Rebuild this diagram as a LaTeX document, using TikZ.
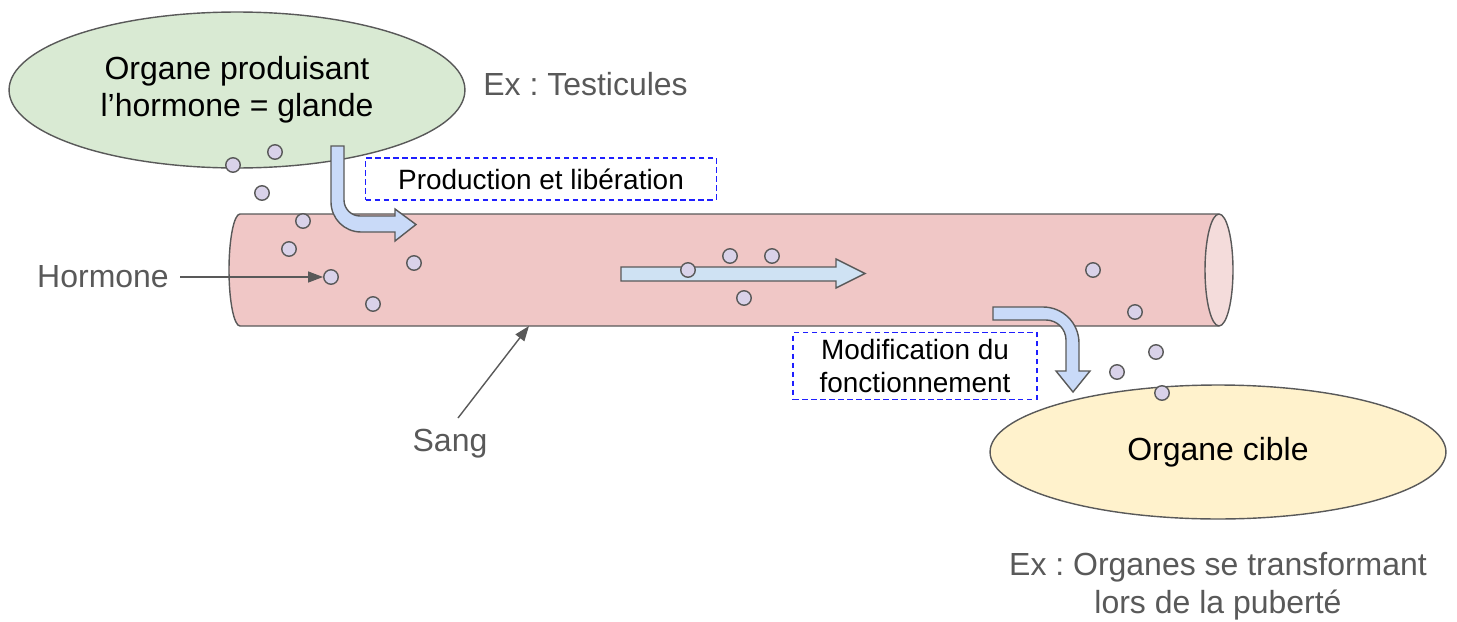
\documentclass[tikz,border=0pt]{standalone}
\usepackage{fontspec}
\setmainfont{Liberation Sans}
\usetikzlibrary{shapes.geometric,arrows.meta}
\definecolor{gland}{HTML}{D9EAD3}
\definecolor{target}{HTML}{FFF2CC}
\definecolor{blood}{HTML}{F0C7C6}
\definecolor{bloodend}{HTML}{F4DCDB}
\definecolor{hormcol}{HTML}{D9D2E9}
\definecolor{flow}{HTML}{C9DAF8}
\definecolor{flowlight}{HTML}{CFE2F3}
\definecolor{edge}{HTML}{595959}
\definecolor{dashblue}{HTML}{1F1FFF}
\frenchspacing
\begin{document}
\begin{tikzpicture}[
    x=0.02cm, y=-0.02cm,
    outline/.style={draw=edge, line width=0.8pt},
    organ/.style={ellipse, outline, inner sep=0pt, align=center, font=\fontsize{18.2}{21}\selectfont},
    molecule/.style={circle, outline, fill=hormcol, minimum size=0.29cm, inner sep=0pt},
    note/.style={draw=dashblue, dash pattern=on 0.11cm off 0.07cm, line width=0.75pt, align=center, inner sep=0pt, font=\fontsize{15.9}{18.4}\selectfont},
    caption/.style={text=edge, align=center, inner sep=0pt, font=\fontsize{18.2}{21.8}\selectfont},
    pointer/.style={draw=edge, line width=0.8pt, -{Triangle[length=0.3cm, width=0.22cm]}}
]
\useasboundingbox (0,0) rectangle (1457,622);

\node[organ, fill=gland, minimum width=9.12cm, minimum height=3.12cm] (glande) at (237,90) {Organe produisant\\l’hormone = glande};
\node[organ, fill=target, minimum width=9.12cm, minimum height=2.68cm] (cible) at (1218,452) {Organe cible};

\draw[outline, fill=blood] (1218,214) -- (240,214) .. controls (234,214) and (229,239) .. (229,270)
    .. controls (229,301) and (234,326) .. (240,326) -- (1218,326) -- cycle;
\draw[outline, fill=bloodend] (1219,270) ellipse [x radius=14, y radius=56];
\coordinate (sangpt) at (529,326);
\coordinate (sangpied) at (458,418);

\node[note, minimum width=7.02cm, minimum height=0.84cm] (liberation) at (541,179) {Production et libération};
\node[note, minimum width=4.88cm, minimum height=1.34cm] (modif) at (915,366) {Modification du\\fonctionnement};

\draw[outline, fill=flow] (331,146) -- (331,202) .. controls (331,218.6) and (344.4,232) .. (361,232) -- (395,232)
    -- (395,241) -- (416,224.5) -- (395,209) -- (395,216) -- (360,216)
    .. controls (351.2,216) and (344,208.8) .. (344,200) -- (344,146) -- cycle;
\draw[outline, fill=flowlight] (621,267) -- (836,267) -- (836,259) -- (865,273.5) -- (836,288) -- (836,281) -- (621,281) -- cycle;
\draw[outline, fill=flow] (993,307) -- (1043,307) .. controls (1062.9,307) and (1079,323.1) .. (1079,343) -- (1079,371)
    -- (1090,371) -- (1073,392) -- (1056,371) -- (1066,371) -- (1066,340)
    .. controls (1066,329) and (1057,320) .. (1046,320) -- (993,320) -- cycle;

\node[molecule] (h1) at (233,165) {}; \node[molecule] (h2) at (275,152) {};
\node[molecule] (h3) at (262,193) {}; \node[molecule] (h4) at (303,221) {};
\node[molecule] (h5) at (289,249) {}; \node[molecule] (h6) at (331,277) {};
\node[molecule] (h7) at (414,263) {}; \node[molecule] (h8) at (373,304) {};
\node[molecule] (h9) at (688,270) {}; \node[molecule] (h10) at (730,256) {};
\node[molecule] (h11) at (772,256) {}; \node[molecule] (h12) at (744,298) {};
\node[molecule] (h13) at (1093,270) {}; \node[molecule] (h14) at (1135,312) {};
\node[molecule] (h15) at (1156,352) {}; \node[molecule] (h16) at (1117,372) {};
\node[molecule] (h17) at (1162,393) {};

\node[caption, anchor=west] (exglande) at (483,84) {Ex : Testicules};
\node[caption] (hormone) at (103,277) {Hormone};
\node[caption] (sang) at (450,444) {Sang};
\node[caption] (excible) at (1218,586) {Ex : Organes se transformant\\lors de la puberté};

\draw[pointer] ([xshift=0.22cm]hormone.east) -- (h6);
\draw[pointer] (sangpied) -- (sangpt);
\end{tikzpicture}
\end{document}
